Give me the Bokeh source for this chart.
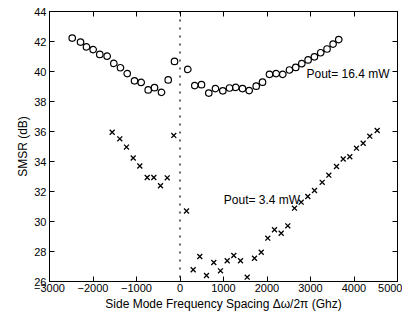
from bokeh.plotting import figure
from bokeh.models import Range1d, LinearAxis, FixedTicker, Span, CustomJSTickFormatter
from bokeh.core.properties import value
from bokeh.embed import file_html
from bokeh.resources import INLINE

# data
circ_x = [-2478, -2287, -2149, -1996, -1844, -1674, -1521, -1368, -1214, -1046, -892, -731,
          -586, -425, -271, -126, 179, 340, 494, 662, 816, 984, 1138, 1283, 1437, 1591,
          1752, 1897, 2057, 2211, 2363, 2517, 2660, 2800, 2945, 3090, 3235, 3380, 3520, 3650]
circ_y = [42.23, 41.96, 41.64, 41.46, 41.14, 41.02, 40.54, 40.25, 39.86, 39.38, 39.27, 38.77,
          38.92, 38.61, 39.44, 40.67, 40.14, 39.06, 39.12, 38.56, 38.86, 38.71, 38.9, 38.94,
          38.86, 38.73, 39.02, 39.29, 39.81, 39.86, 39.81, 40.1, 40.27, 40.52, 40.77, 40.98,
          41.25, 41.5, 41.83, 42.13]
cross_x = [-1559, -1384, -1230, -1076, -924, -754, -602, -448, -294, -143,
           149, 303, 455, 609, 777, 931, 1085, 1237, 1391, 1545, 1713, 1867, 2018, 2172,
           2326, 2478, 2632, 2786, 2938, 3092, 3269, 3421, 3598, 3752, 3903, 4057, 4211,
           4363, 4533]
cross_y = [35.95, 35.51, 34.96, 34.23, 33.7, 32.93, 32.93, 32.38, 32.91, 35.74,
           30.7, 26.78, 27.67, 26.4, 27.27, 26.71, 27.38, 27.73, 27.38, 26.29, 27.55, 27.95,
           28.89, 29.45, 29.22, 29.71, 30.89, 31.29, 31.67, 32.07, 32.61, 33.09, 33.67,
           34.17, 34.32, 34.89, 35.22, 35.69, 36.07]
x_ticks = [-3000, -2000, -1000, 0, 1000, 2000, 3000, 4000, 5000]
y_ticks = [26, 28, 30, 32, 34, 36, 38, 40, 42, 44]
label_text = ["Pout= 16.4 mW", "Pout= 3.4 mW"]
label_x = [2908, 1007]
label_y = [39.86, 31.42]
zero_line = 0

FONT = "Liberation Sans"

p = figure(width=402, height=313, output_backend="svg", toolbar_location=None,
           x_range=Range1d(-3000, 5000), y_range=Range1d(26, 44),
           min_border_left=49, min_border_right=5, min_border_top=11, min_border_bottom=30,
           x_axis_label="Side Mode Frequency Spacing \u0394\u03c9/2\u03c0 (Ghz)",
           y_axis_label="SMSR (dB)")
p.grid.visible = False
p.outline_line_color = "black"
p.outline_line_width = 1
p.background_fill_color = "white"
p.border_fill_color = "white"

for ax in (p.xaxis[0], p.yaxis[0]):
    ax.major_tick_in = 5
    ax.major_tick_out = 0
    ax.minor_tick_in = 0
    ax.minor_tick_out = 0
    ax.axis_line_color = "black"
    ax.major_tick_line_color = "black"
    ax.major_label_text_font = FONT
    ax.major_label_text_font_size = "11px"
    ax.major_label_text_color = "black"
    ax.axis_label_text_font = FONT
    ax.axis_label_text_font_size = "12px"
    ax.axis_label_text_font_style = "normal"
    ax.axis_label_text_color = "black"
p.xaxis[0].ticker = FixedTicker(ticks=x_ticks)
p.yaxis[0].ticker = FixedTicker(ticks=y_ticks)
p.xaxis[0].major_label_standoff = 2
p.xaxis[0].axis_label_standoff = 2
p.yaxis[0].major_label_standoff = 3
p.yaxis[0].axis_label_standoff = 1

blank = CustomJSTickFormatter(code="return '';")
top = LinearAxis(ticker=FixedTicker(ticks=x_ticks), formatter=blank, major_tick_in=5,
                 major_tick_out=0, minor_tick_in=0, minor_tick_out=0, major_label_standoff=0)
right = LinearAxis(ticker=FixedTicker(ticks=y_ticks), formatter=blank, major_tick_in=5,
                   major_tick_out=0, minor_tick_in=0, minor_tick_out=0, major_label_standoff=0)
p.add_layout(top, "above")
p.add_layout(right, "right")

p.add_layout(Span(location=zero_line, dimension="height", line_color="black",
                  line_width=1.2, line_dash="2 6"))

p.scatter(circ_x, circ_y, marker="circle", size=6.5, fill_color=None,
          line_color="black", line_width=1.2)
p.scatter(cross_x, cross_y, marker="x", size=7, line_color="black", line_width=1.3)

p.text(label_x, label_y, text=label_text, text_font=value(FONT), text_font_size="12px",
       text_color="black", text_align="left", text_baseline="alphabetic")

open("out.html", "w").write(file_html(p, INLINE))
